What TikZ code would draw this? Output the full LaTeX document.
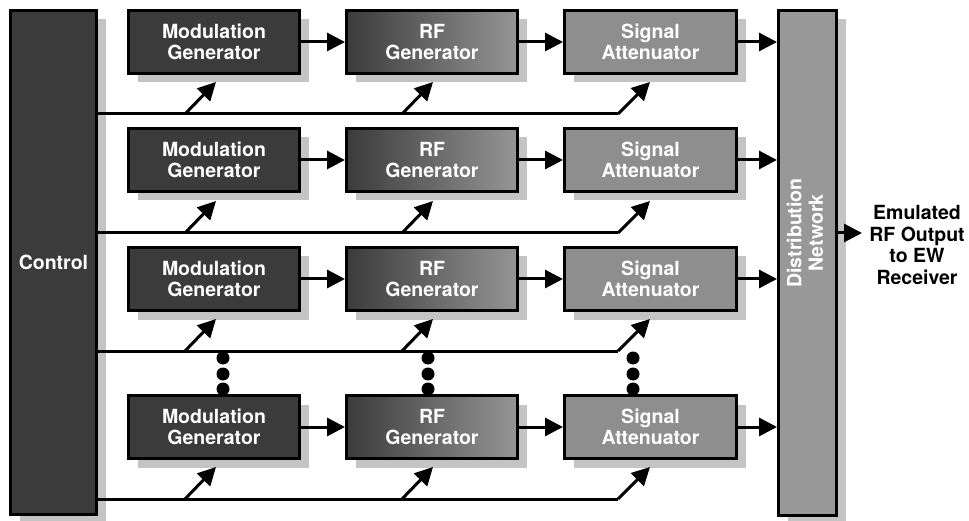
\documentclass[tikz,border=0pt]{standalone}
\usepackage{fontspec}
\setmainfont{TeX Gyre Heros}
\usetikzlibrary{arrows.meta,shadows}
\definecolor{boxdark}{HTML}{3B3B3B}
\definecolor{rflight}{HTML}{959595}
\definecolor{safill}{HTML}{8E8E8E}
\definecolor{dnfill}{HTML}{989898}
\definecolor{shade}{HTML}{C4C4C4}
\tikzset{
  blk/.style={draw=black, line width=3pt, inner sep=0pt, anchor=north west,
    text=white, align=center, font=\fontsize{19.5}{21.5}\selectfont\bfseries,
    drop shadow={shadow xshift=9pt, shadow yshift=-9pt, fill=shade, opacity=1}},
  modbox/.style={blk, fill=boxdark, minimum width=171pt, minimum height=63pt},
  rfbox/.style={blk, left color=boxdark, right color=rflight, minimum width=171pt, minimum height=63pt},
  sabox/.style={blk, fill=safill, minimum width=172pt, minimum height=63pt},
  arr/.style={line width=3pt, -{Triangle[length=18pt,width=18pt]}},
  ctl/.style={line width=3pt},
  dotc/.style={fill=black, draw=none, circle, inner sep=0pt, minimum size=13pt}
}
\begin{document}
\begin{tikzpicture}[x=1pt,y=-1pt]
\useasboundingbox (0,0) rectangle (969,521);
% control and distribution
\node[blk, fill=boxdark, minimum width=86pt, minimum height=504pt] (ctrl) at (9,9) {Control};
\node[blk, fill=dnfill, minimum width=58pt, minimum height=505pt] (dn) at (777,9) {};
\node[rotate=90, text=white, align=center, font=\fontsize{19.5}{21.5}\selectfont\bfseries] (dntext) at (805,233) {Distribution\\Network};
% rows
\foreach \i/\t/\c in {1/9/114, 2/127/233, 3/246/351, 4/394/499} {
  \node[modbox] (mg\i) at (127,\t) {Modulation\\Generator};
  \node[rfbox] (rf\i) at (345,\t) {RF\\Generator};
  \node[sabox] (sa\i) at (563,\t) {Signal\\Attenuator};
  \draw[arr] (mg\i.east) -- (rf\i.west);
  \draw[arr] (rf\i.east) -- (sa\i.west);
  \draw[arr] (sa\i.east) -- (sa\i.east -| dn.west);
  \coordinate (cs\i) at (ctrl.east |- 0,\c);
  \coordinate (ca\i) at (185,\c);
  \coordinate (cb\i) at (402,\c);
  \coordinate (cc\i) at (618,\c);
  \coordinate (ta\i) at (216,\c-32);
  \coordinate (tb\i) at (433,\c-32);
  \coordinate (tc\i) at (650,\c-32);
  \draw[ctl] (cs\i) -- (cc\i);
  \draw[arr] (cc\i) -- (tc\i);
  \draw[arr] (ca\i) -- (ta\i);
  \draw[arr] (cb\i) -- (tb\i);
}
% dots
\foreach \x/\n in {223/a, 428/b, 633/c} {
  \node[dotc] (d\n1) at (\x,358) {};
  \node[dotc] (d\n2) at (\x,374) {};
  \node[dotc] (d\n3) at (\x,389) {};
}
% output
\coordinate (outtip) at (862,233);
\draw[arr] (dn.east |- outtip) -- (outtip);
\node[align=center, font=\fontsize{19.5}{21.5}\selectfont\bfseries] (out) at (917,245) {Emulated\\RF Output\\to EW\\Receiver};
\end{tikzpicture}
\end{document}
